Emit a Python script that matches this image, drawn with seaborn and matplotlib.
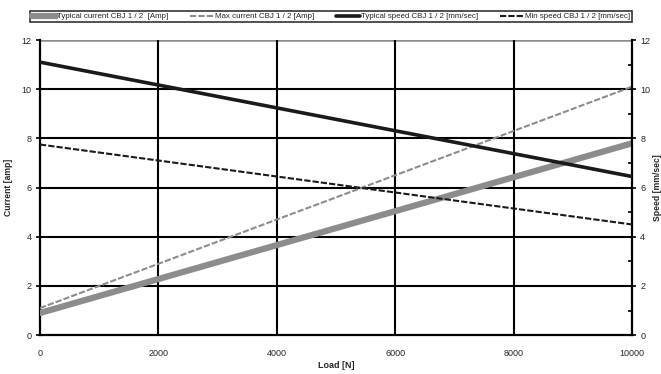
import pandas as pd
import matplotlib
matplotlib.use("Agg")
import matplotlib.pyplot as plt
import seaborn as sns

# data
load = [0, 10000]
typical_current = [0.9, 7.8]
max_current = [1.1, 10.1]
typical_speed = [11.1, 6.45]
min_speed = [7.75, 4.5]

x_ticks = [0, 2000, 4000, 6000, 8000, 10000]
y_ticks = [0, 2, 4, 6, 8, 10, 12]

sns.set_style("white")
plt.rcParams['font.family'] = ['Liberation Sans', 'DejaVu Sans']

df_cur = pd.DataFrame({"load": load, "typ": typical_current, "max": max_current})
df_spd = pd.DataFrame({"load": load, "typ": typical_speed, "min": min_speed})

fig = plt.figure(figsize=(6.61, 3.74), dpi=100)
ax = fig.add_axes([0.0605, 0.104, 0.8955, 0.789])
ax2 = ax.twinx()

# grid
for v in y_ticks[1:-1]:
    ax.axhline(v, color="black", lw=1.5, zorder=1)
ax.axhline(12, color="#8c8c8c", lw=1.8, zorder=1)
for v in x_ticks[1:-1]:
    ax.axvline(v, color="black", lw=1.5, zorder=1)

sns.lineplot(data=df_cur, x="load", y="typ", ax=ax, color="#8c8c8c", lw=4.5,
             label="Typical current CBJ 1 / 2  [Amp]", legend=False, zorder=3)
sns.lineplot(data=df_cur, x="load", y="max", ax=ax, color="#8c8c8c", lw=1.5,
             linestyle=(0, (3, 1)), label="Max current CBJ 1 / 2 [Amp]", legend=False, zorder=3)
sns.lineplot(data=df_spd, x="load", y="typ", ax=ax2, color="#1a1a1a", lw=2.6,
             label="Typical speed CBJ 1 / 2 [mm/sec]", legend=False, zorder=3)
sns.lineplot(data=df_spd, x="load", y="min", ax=ax2, color="#1a1a1a", lw=1.5,
             linestyle=(0, (3, 1)), label="Min speed CBJ 1 / 2 [mm/sec]", legend=False, zorder=3)

for a in (ax, ax2):
    a.set_xlim(0, 10000)
    a.set_ylim(0, 12)
    a.set_yticks(y_ticks)
    a.tick_params(labelsize=6.5, length=3, width=1.2, color="black", pad=3)
    for s in a.spines.values():
        s.set_visible(False)

ax.set_xticks(x_ticks)
for side in ("left", "bottom"):
    ax.spines[side].set_visible(True)
    ax.spines[side].set_linewidth(1.6)
    ax.spines[side].set_color("black")
ax2.spines["right"].set_visible(True)
ax2.spines["right"].set_linewidth(1.6)
ax2.spines["right"].set_color("black")
ax2.set_yticks([1, 3, 5, 7, 9, 11], minor=True)
ax2.tick_params(which="minor", length=3, width=1.2, color="black", direction="in")
ax.tick_params(axis="x", pad=7)

ax.set_xlabel("Load [N]", fontsize=6.5, fontweight="bold", labelpad=2)
ax.set_ylabel("Current [amp]", fontsize=6.2, fontweight="bold", labelpad=6)
ax2.set_ylabel("Speed [mm/sec]", fontsize=6.2, fontweight="bold", labelpad=2, rotation=90)

h1, l1 = ax.get_legend_handles_labels()
h2, l2 = ax2.get_legend_handles_labels()
leg = fig.legend(h1 + h2, l1 + l2, ncol=4, loc="lower left", mode="expand",
                 bbox_to_anchor=(30 / 661, 0.94, 602 / 661, 0.04),
                 fontsize=5.7, frameon=True, fancybox=False, edgecolor="black",
                 handlelength=3.0, handletextpad=0.2, columnspacing=1.0,
                 borderpad=0.25, borderaxespad=0)
leg.get_frame().set_linewidth(1.2)

fig.savefig("out.png", dpi=100)
